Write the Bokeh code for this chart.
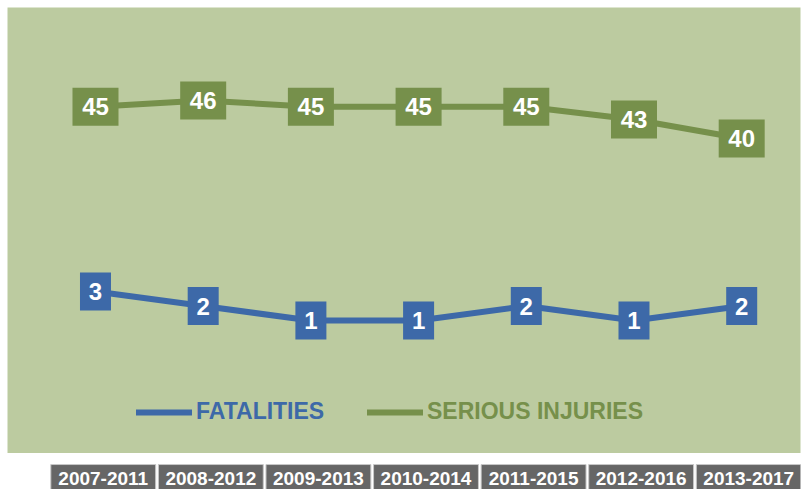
from bokeh.plotting import figure
from bokeh.models import Range1d, ColumnDataSource, Legend, LegendItem
from bokeh.layouts import column
from bokeh.core.properties import value
from bokeh.embed import file_html
from bokeh.resources import INLINE

periods = ["2007-2011", "2008-2012", "2009-2013", "2010-2014", "2011-2015", "2012-2016", "2013-2017"]
fatalities = [3, 2, 1, 1, 2, 1, 2]
serious_injuries = [45, 46, 45, 45, 45, 43, 40]

BG = "#BCCBA0"
GREEN = "#76904B"
BLUE = "#3D69A8"
GRAY = "#666666"
FONT = "Liberation Sans"

idx = list(range(len(periods)))
src = ColumnDataSource(dict(
    x=idx,
    fat=fatalities,
    ser=serious_injuries,
    fat_lbl=[str(v) for v in fatalities],
    ser_lbl=[str(v) for v in serious_injuries],
))

p = figure(width=802, height=453, x_range=Range1d(-0.817, 6.546),
           y_range=Range1d(-9.77, 60.69), toolbar_location=None,
           output_backend="svg", min_border=0, min_border_left=7,
           min_border_top=7, min_border_right=2, min_border_bottom=0,
           x_axis_location=None, y_axis_location=None, background_fill_color=BG,
           border_fill_color="white", outline_line_color=None)
p.extra_y_ranges = {"fat": Range1d(-8.17, 22.59)}
p.grid.visible = False

ser_line = p.line("x", "ser", source=src, line_color=GREEN, line_width=6, line_cap="round")
fat_line = p.line("x", "fat", source=src, line_color=BLUE, line_width=6, line_cap="round",
                  y_range_name="fat")

p.rect("x", "ser", source=src, width=46, height=38, width_units="screen",
       height_units="screen", fill_color=GREEN, line_color=None)
p.rect("x", "fat", source=src, width=31, height=38, width_units="screen",
       height_units="screen", fill_color=BLUE, line_color=None, y_range_name="fat")

p.text("x", "ser", text="ser_lbl", source=src, text_align="center", text_baseline="middle",
       text_color="white", text_font_size="24px", text_font_style="bold",
       text_font=value(FONT))
p.text("x", "fat", text="fat_lbl", source=src, text_align="center", text_baseline="middle",
       text_color="white", text_font_size="24px", text_font_style="bold",
       text_font=value(FONT), y_range_name="fat")

def make_legend(label, rend, color, loc):
    return Legend(items=[LegendItem(label=label, renderers=[rend])], location=loc,
                  orientation="horizontal", label_text_color=color,
                  label_text_font_size="23px", label_text_font_style="bold",
                  label_text_font=FONT, glyph_width=56, glyph_height=26,
                  label_height=26, label_standoff=4, padding=0, margin=0,
                  spacing=0, border_line_alpha=0, background_fill_alpha=0)

p.add_layout(make_legend("FATALITIES", fat_line, BLUE, (129, 28)))
p.add_layout(make_legend("SERIOUS INJURIES", ser_line, GREEN, (360, 28)))

b = figure(width=802, height=26, x_range=Range1d(-0.89, 6.481), y_range=Range1d(0, 1),
           toolbar_location=None, output_backend="svg", min_border=0,
           x_axis_location=None, y_axis_location=None, outline_line_color=None,
           background_fill_color="white", border_fill_color="white")
b.grid.visible = False
bsrc = ColumnDataSource(dict(x=idx, t=periods))
b.rect("x", -0.02, source=bsrc, width=0.975, height=1.96, fill_color=GRAY,
       line_color="#C8C8C8", line_width=1)
b.text("x", 0.44, text="t", source=bsrc, text_align="center", text_baseline="middle",
       text_color="white", text_font_size="19px", text_font_style="bold",
       text_font=value(FONT))

layout = column(p, b, spacing=10)
open("out.html", "w").write(file_html(layout, INLINE, title="Chart"))
